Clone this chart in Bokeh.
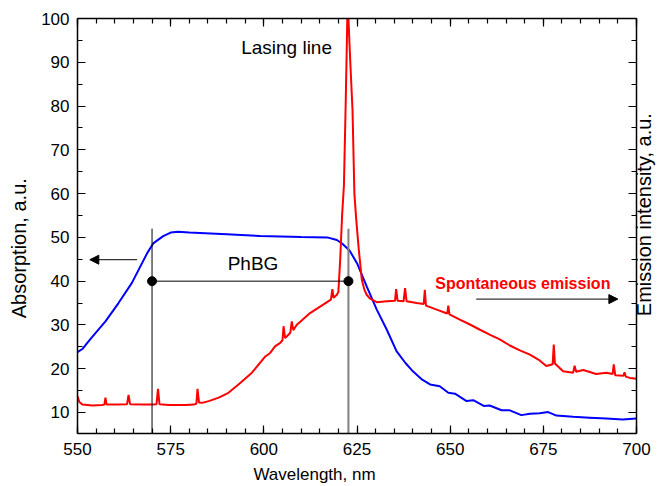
import math
from bokeh.plotting import figure
from bokeh.models import Range1d, LinearAxis, FixedTicker, Label, Arrow, NormalHead
from bokeh.embed import file_html
from bokeh.resources import INLINE

# ---------------- data ----------------
abs_wl = [550, 551.3, 553.5, 557.5, 561, 564.6, 568.7, 570.4, 573, 575, 577, 580, 590, 599,
          610, 617, 619.6, 621, 623, 625, 627.6, 630.3, 633, 635.6, 638, 640, 642.5, 644.6,
          647.2, 649.5, 651.3, 654.4, 656.2, 659, 660.6, 663.8, 666, 669.1, 671.4, 674,
          676.3, 678.5, 683, 687.4, 691.9, 696.3, 700]
abs_val = [23.8, 24.5, 26.8, 30.8, 35, 39.6, 46.4, 48.7, 50.3, 51.1, 51.3, 51.1, 50.7, 50.3,
           50.1, 50.0, 49.4, 48.6, 47.0, 44.1, 38.8, 33.5, 28.9, 24.0, 21.3, 19.4, 17.5, 16.4,
           16.0, 14.5, 14.3, 12.6, 12.8, 11.5, 11.6, 10.5, 10.5, 9.4, 9.7, 9.8,
           10.1, 9.3, 9.0, 8.8, 8.6, 8.4, 8.6]

em_wl = [550, 550.5, 551.3, 554, 556.6, 557.2, 557.5, 557.8, 560.2, 563.3, 563.7, 564.1,
         567.3, 570, 571.2, 571.6, 572, 574.5, 579, 581.2, 581.9, 582.2, 582.6, 583.4, 585.2,
         587.9, 590.5, 593.2, 596.8, 600.4, 601.7, 603, 604.4, 605, 605.3, 605.7, 606.2,
         607.1, 607.5, 607.9, 608.8, 612.4, 615.1, 618.0, 618.4, 618.7, 619.6, 620.0, 620.5,
         621.0, 621.5, 622.0, 622.4, 622.7, 623.2, 623.8, 624.3, 624.8, 625.5, 626.3, 627.0,
         627.6, 628.5, 630.3, 633, 635.2, 635.5, 635.9, 637.5, 637.9, 638.3, 641, 642.9,
         643.2, 643.5, 646.4, 649.2, 649.5, 649.8, 652.6, 655.3, 658, 660.6, 663.3, 666,
         668.7, 671.4, 674, 675.8, 677.5, 677.8, 678.1, 680.3, 683, 683.4, 683.8, 685.7,
         689.2, 691.9, 693.6, 693.9, 694.3, 696.5, 696.8, 697.1, 698.2, 700]
em_val = [13.7, 12.4, 11.8, 11.6, 11.7, 11.8, 13.4, 11.8, 11.8, 11.9, 14.0, 11.9,
          11.8, 11.8, 11.9, 15.4, 11.9, 11.7, 11.7, 11.8, 12.0, 15.4, 12.3, 12.2, 12.6,
          13.4, 14.5, 16.4, 19.1, 22.8, 23.6, 25.1, 25.9, 26.5, 29.7, 27.0, 27.4,
          28.2, 30.8, 28.8, 30.0, 32.7, 34.2, 35.8, 38.2, 36.2, 36.9, 37.5, 45,
          55, 62, 82, 100, 100, 90, 79, 60, 54, 47, 40.3, 38,
          36.9, 36.0, 35.2, 35.4, 35.5, 38.2, 35.5, 35.4, 38.4, 35.4, 35.0, 34.8,
          38.0, 34.4, 33.5, 32.6, 34.4, 32.4, 31.2, 30.1, 28.9, 27.8, 26.7, 25.3,
          24.2, 23.2, 21.9, 20.6, 21.0, 25.5, 21.2, 19.4, 19.1, 20.7, 19.3, 19.7,
          18.8, 19.1, 18.8, 21.0, 18.5, 18.4, 19.2, 18.2, 17.9, 17.7]

x_ticks = [550, 575, 600, 625, 650, 675, 700]
x_minor = [v for v in range(550, 701, 5)]
y_ticks = [10, 20, 30, 40, 50, 60, 70, 80, 90, 100]
y_minor = [15, 25, 35, 45, 55, 65, 75, 85, 95]

phbg_edges = [570, 622.7]      # band edges (nm)
phbg_level = 40
edge_top = 52

right_title = "Emission intensity, a.u."
right_title_start = 32          # y level where the right-hand title begins

FONT = "Liberation Sans"
NB = "\u00a0"

p = figure(width=669, height=486, output_backend="svg", toolbar_location=None,
           x_range=Range1d(550, 700), y_range=Range1d(5.2, 100),
           min_border_left=77, min_border_right=32, min_border_top=18, min_border_bottom=52,
           x_axis_location=None, y_axis_location=None)
p.grid.visible = False
p.outline_line_color = None
p.background_fill_color = "white"


def style_axis(ax, ticks, minor, labels=True):
    ax.ticker = FixedTicker(ticks=ticks, minor_ticks=minor)
    ax.axis_line_width = 1.5
    ax.axis_line_color = "black"
    ax.major_tick_in = 8
    ax.major_tick_out = 0
    ax.minor_tick_in = 5
    ax.minor_tick_out = 0
    ax.major_tick_line_width = 1.2
    ax.minor_tick_line_width = 1.2
    ax.major_label_text_font = FONT
    ax.major_label_text_color = "black"
    ax.major_label_text_font_size = "17px"
    ax.axis_label_text_font = FONT
    ax.axis_label_text_font_style = "normal"
    ax.axis_label_text_color = "black"
    if not labels:
        ax.major_label_overrides = {t: "" for t in ticks}
        ax.major_label_text_font_size = "1px"
        ax.major_label_standoff = 0


bottom = LinearAxis(axis_label="Wavelength, nm" + NB * 18)
style_axis(bottom, x_ticks, x_minor)
bottom.major_label_standoff = 9
bottom.axis_label_standoff = 7
bottom.axis_label_text_font_size = "17px"
p.add_layout(bottom, "below")

top = LinearAxis()
style_axis(top, x_ticks, x_minor, labels=False)
p.add_layout(top, "above")

left = LinearAxis(axis_label="Absorption, a.u." + NB * 8)
style_axis(left, y_ticks, y_minor)
left.major_label_standoff = 8
left.axis_label_standoff = 8
left.axis_label_text_font_size = "20px"
p.add_layout(left, "left")

right = LinearAxis()
style_axis(right, y_ticks, y_minor, labels=False)
p.add_layout(right, "right")

# outer right axis used only to carry the rotated right-hand title
right_title_axis = LinearAxis(ticker=FixedTicker(ticks=[right_title_start], minor_ticks=[]))
right_title_axis.axis_line_color = None
right_title_axis.major_tick_line_color = None
right_title_axis.minor_tick_line_color = None
right_title_axis.major_tick_in = 0
right_title_axis.major_tick_out = 0
right_title_axis.minor_tick_in = 0
right_title_axis.minor_tick_out = 0
right_title_axis.major_label_overrides = {right_title_start: right_title}
right_title_axis.major_label_orientation = math.pi / 2
right_title_axis.major_label_text_font = FONT
right_title_axis.major_label_text_font_size = "20px"
right_title_axis.major_label_text_color = "black"
right_title_axis.major_label_standoff = 8
p.add_layout(right_title_axis, "right")

# curves
p.line(abs_wl, abs_val, line_color="#0000FF", line_width=2)
p.line(em_wl, em_val, line_color="#FF0000", line_width=2)

# PhBG band edges
p.segment(x0=[phbg_edges[0]], y0=[5.2], x1=[phbg_edges[0]], y1=[edge_top],
          line_color="black", line_width=1)
p.segment(x0=[phbg_edges[1]], y0=[5.2], x1=[phbg_edges[1]], y1=[edge_top],
          line_color="#808080", line_width=2)
p.segment(x0=[phbg_edges[0]], y0=[phbg_level], x1=[phbg_edges[1]], y1=[phbg_level],
          line_color="black", line_width=1)
p.scatter(phbg_edges, [phbg_level, phbg_level], size=9, color="black")

# arrows
p.add_layout(Arrow(x_start=566, y_start=44.9, x_end=553.3, y_end=44.9, line_width=1,
                   end=NormalHead(size=9, fill_color="black", line_color="black")))
p.add_layout(Arrow(x_start=657, y_start=35.9, x_end=695, y_end=35.9, line_width=1,
                   end=NormalHead(size=9, fill_color="black", line_color="black")))

# annotations
p.add_layout(Label(x=597.1, y=41.6, text="PhBG", text_font=FONT, text_font_size="19px",
                   text_align="center", text_baseline="bottom", text_color="black"))
p.add_layout(Label(x=606.1, y=93.3, text="Lasing line", text_font=FONT, text_font_size="19px",
                   text_align="center", text_baseline="alphabetic", text_color="black"))
p.add_layout(Label(x=669.5, y=39.4, text="Spontaneous emission", text_font=FONT,
                   text_font_size="16px", text_font_style="bold", text_align="center",
                   text_baseline="alphabetic", text_color="#FF0000"))

open("out.html", "w").write(file_html(p, INLINE))
